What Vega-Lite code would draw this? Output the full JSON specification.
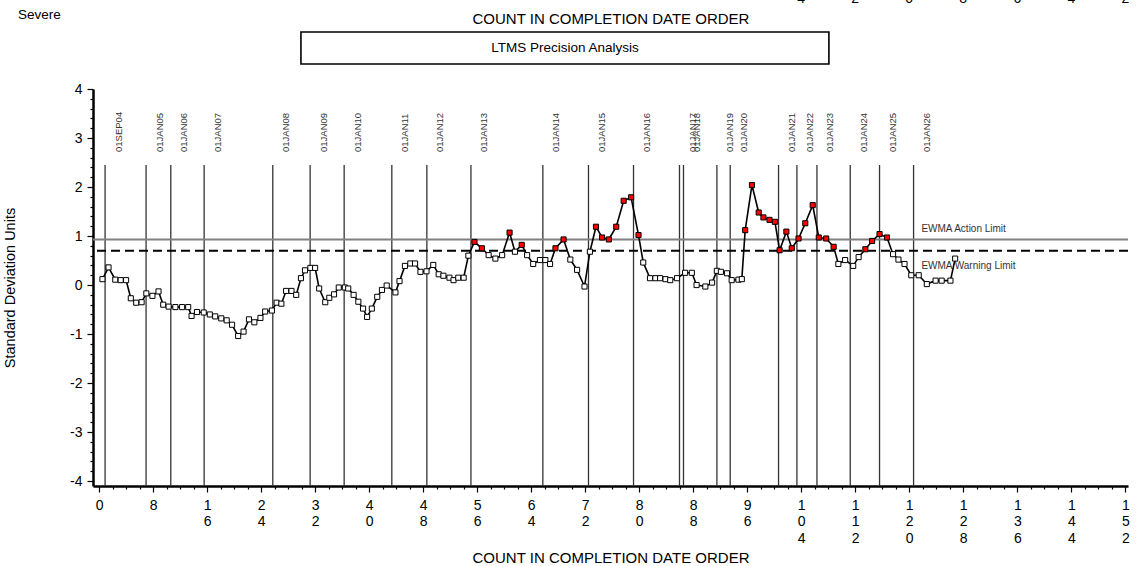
{
  "$schema": "https://vega.github.io/schema/vega-lite/v6.json",
  "width": 1035,
  "height": 397,
  "autosize": {"type": "none"},
  "padding": {"left": 93, "top": 89, "right": 17, "bottom": 80},
  "background": "white",
  "config": {"view": {"stroke": null}, "font": "Liberation Sans"},
  "datasets": {
    "series": [
      {"x":0.5,"y":0.12},{"x":1.4,"y":0.36},{"x":2.4,"y":0.11},{"x":3.2,"y":0.1},{"x":4.0,"y":0.1},{"x":4.7,"y":-0.27},{"x":5.5,"y":-0.36},{"x":6.3,"y":-0.35},{"x":7.0,"y":-0.17},{"x":7.9,"y":-0.22},
      {"x":8.8,"y":-0.13},{"x":9.5,"y":-0.4},{"x":10.3,"y":-0.44},{"x":11.3,"y":-0.45},{"x":12.3,"y":-0.45},{"x":13.2,"y":-0.45},{"x":13.7,"y":-0.63},{"x":14.5,"y":-0.55},{"x":15.5,"y":-0.56},{"x":16.4,"y":-0.6},
      {"x":17.2,"y":-0.64},{"x":18.1,"y":-0.68},{"x":18.9,"y":-0.72},{"x":19.7,"y":-0.81},{"x":20.6,"y":-1.04},{"x":21.4,"y":-0.95},{"x":22.2,"y":-0.7},{"x":23.0,"y":-0.76},{"x":23.9,"y":-0.67},{"x":24.6,"y":-0.54},
      {"x":25.6,"y":-0.52},{"x":26.3,"y":-0.36},{"x":27.0,"y":-0.38},{"x":27.7,"y":-0.12},{"x":28.5,"y":-0.12},{"x":29.2,"y":-0.2},{"x":29.9,"y":0.14},{"x":30.5,"y":0.3},{"x":31.3,"y":0.35},{"x":32.0,"y":0.35},
      {"x":32.6,"y":-0.07},{"x":33.5,"y":-0.35},{"x":34.1,"y":-0.26},{"x":34.8,"y":-0.19},{"x":35.5,"y":-0.05},{"x":36.4,"y":-0.05},{"x":36.9,"y":-0.07},{"x":37.7,"y":-0.2},{"x":38.4,"y":-0.34},{"x":39.1,"y":-0.48},
      {"x":39.7,"y":-0.65},{"x":40.4,"y":-0.48},{"x":41.2,"y":-0.24},{"x":41.9,"y":-0.1},{"x":42.6,"y":-0.01},{"x":43.9,"y":-0.15},{"x":44.5,"y":0.08},{"x":45.3,"y":0.39},{"x":46.1,"y":0.44},{"x":46.8,"y":0.44},
      {"x":47.6,"y":0.27},{"x":48.5,"y":0.28},{"x":49.5,"y":0.41},{"x":50.3,"y":0.22},{"x":51.0,"y":0.19},{"x":51.9,"y":0.15},{"x":52.5,"y":0.1},{"x":53.2,"y":0.15},{"x":54.0,"y":0.15},{"x":54.7,"y":0.6},
      {"x":55.6,"y":0.88},{"x":56.7,"y":0.75},{"x":57.7,"y":0.61},{"x":58.7,"y":0.54},{"x":59.7,"y":0.61},{"x":60.8,"y":1.07},{"x":61.6,"y":0.68},{"x":62.6,"y":0.82},{"x":63.4,"y":0.61},{"x":64.3,"y":0.43},
      {"x":65.3,"y":0.51},{"x":66.1,"y":0.51},{"x":66.8,"y":0.43},{"x":67.6,"y":0.75},{"x":68.8,"y":0.93},{"x":69.8,"y":0.52},{"x":70.8,"y":0.31},{"x":71.9,"y":-0.03},{"x":72.7,"y":0.68},{"x":73.6,"y":1.19},
      {"x":74.5,"y":0.97},{"x":75.5,"y":0.93},{"x":76.6,"y":1.19},{"x":77.7,"y":1.72},{"x":78.8,"y":1.79},{"x":79.9,"y":1.02},{"x":80.6,"y":0.46},{"x":81.6,"y":0.14},{"x":82.4,"y":0.14},{"x":83.1,"y":0.14},
      {"x":83.9,"y":0.12},{"x":84.6,"y":0.1},{"x":85.6,"y":0.14},{"x":86.8,"y":0.25},{"x":87.8,"y":0.25},{"x":88.5,"y":0.0},{"x":89.8,"y":-0.03},{"x":90.8,"y":0.05},{"x":91.5,"y":0.29},{"x":92.1,"y":0.27},
      {"x":93.0,"y":0.24},{"x":93.7,"y":0.1},{"x":94.7,"y":0.11},{"x":95.2,"y":0.12},{"x":95.7,"y":1.12},{"x":96.7,"y":2.04},{"x":97.7,"y":1.48},{"x":98.4,"y":1.38},{"x":99.3,"y":1.33},{"x":100.1,"y":1.29},
      {"x":100.8,"y":0.71},{"x":101.8,"y":1.09},{"x":102.6,"y":0.75},{"x":103.6,"y":0.95},{"x":104.6,"y":1.26},{"x":105.7,"y":1.63},{"x":106.6,"y":0.97},{"x":107.7,"y":0.95},{"x":108.8,"y":0.78},{"x":109.5,"y":0.43},
      {"x":110.5,"y":0.51},{"x":111.7,"y":0.39},{"x":112.5,"y":0.57},{"x":113.5,"y":0.73},{"x":114.5,"y":0.9},{"x":115.6,"y":1.04},{"x":116.7,"y":0.97},{"x":117.6,"y":0.63},{"x":118.4,"y":0.52},{"x":119.3,"y":0.43},
      {"x":120.3,"y":0.2},{"x":121.4,"y":0.2},{"x":122.6,"y":0.02},{"x":123.9,"y":0.09},{"x":124.8,"y":0.09},{"x":126.1,"y":0.09},{"x":126.8,"y":0.54}
    ],
    "dates": [
      {"x":0.89,"label":"01SEP04"},{"x":6.96,"label":"01JAN05"},{"x":10.62,"label":"01JAN06"},{"x":15.56,"label":"01JAN07"},{"x":25.73,"label":"01JAN08"},{"x":31.26,"label":"01JAN09"},{"x":36.3,"label":"01JAN10"},{"x":43.36,"label":"01JAN11"},{"x":48.55,"label":"01JAN12"},{"x":55.08,"label":"01JAN13"},{"x":65.73,"label":"01JAN14"},{"x":72.49,"label":"01JAN15"},{"x":79.16,"label":"01JAN16"},{"x":85.97,"label":"01JAN17"},{"x":86.56,"label":"01JAN18"},{"x":91.51,"label":"01JAN19"},{"x":93.48,"label":"01JAN20"},{"x":100.64,"label":"01JAN21"},{"x":103.36,"label":"01JAN22"},{"x":106.33,"label":"01JAN23"},{"x":111.26,"label":"01JAN24"},{"x":115.6,"label":"01JAN25"},{"x":120.64,"label":"01JAN26"}
    ],
    "limits": [
      {"name":"EWMA Action Limit","value":0.93},
      {"name":"EWMA Warning Limit","value":0.70}
    ],
    "topdigits": [
      {"x":104,"digit":"4"},{"x":112,"digit":"2"},{"x":120,"digit":"0"},{"x":128,"digit":"8"},{"x":136,"digit":"6"},{"x":144,"digit":"4"},{"x":152,"digit":"2"}
    ]
  },
  "layer": [
    {
      "data": {"name": "series"},
      "mark": {"type": "line", "stroke": "#000000", "strokeWidth": 1.6, "opacity": 0},
      "encoding": {
        "x": {
          "field": "x", "type": "quantitative",
          "scale": {"domain": [-0.9, 152.4], "nice": false, "zero": false},
          "axis": {
            "values": [0,2,4,6,8,10,12,14,16,18,20,22,24,26,28,30,32,34,36,38,40,42,44,46,48,50,52,54,56,58,60,62,64,66,68,70,72,74,76,78,80,82,84,86,88,90,92,94,96,98,100,102,104,106,108,110,112,114,116,118,120,122,124,126,128,130,132,134,136,138,140,142,144,146,148,150,152],
            "tickCount": 200,
            "title": "COUNT IN COMPLETION DATE ORDER",
            "titleFont": "Liberation Sans", "titleFontSize": 15, "titleFontWeight": "normal", "titleColor": "#000000", "titlePadding": 5,
            "labelExpr": "datum.value % 8 === 0 ? split('' + datum.value, '') : ''",
            "labelFont": "Liberation Sans", "labelFontSize": 14, "labelColor": "#000000", "labelLineHeight": 16.5, "labelPadding": 6,
            "labelOverlap": false, "labelFlush": false, "labelBaseline": "top", "labelAlign": "center",
            "tickSize": {"condition": {"test": "datum.value % 8 === 0", "value": 6}, "value": 3},
            "tickColor": "#000000", "tickWidth": 1.2,
            "domainColor": "#000000", "domainWidth": 2.5,
            "grid": false
          }
        },
        "y": {
          "field": "y", "type": "quantitative",
          "scale": {"domain": [-4.1, 4], "nice": false, "zero": false},
          "axis": {
            "values": [-4,-3.8,-3.6,-3.4,-3.2,-3,-2.8,-2.6,-2.4,-2.2,-2,-1.8,-1.6,-1.4,-1.2,-1,-0.8,-0.6,-0.4,-0.2,0,0.2,0.4,0.6,0.8,1,1.2,1.4,1.6,1.8,2,2.2,2.4,2.6,2.8,3,3.2,3.4,3.6,3.8,4],
            "tickCount": 200,
            "title": "Standard Deviation Units",
            "titleFont": "Liberation Sans", "titleFontSize": 14.5, "titleFontWeight": "normal", "titleColor": "#000000", "titlePadding": 52,
            "labelExpr": "abs(datum.value - round(datum.value)) < 0.001 ? '' + round(datum.value) : ''",
            "labelFont": "Liberation Sans", "labelFontSize": 14, "labelColor": "#000000", "labelPadding": 5,
            "labelOverlap": false, "labelFlush": false,
            "tickSize": {"condition": {"test": "abs(datum.value - round(datum.value)) < 0.001", "value": 6}, "value": 3},
            "tickColor": "#000000", "tickWidth": 1.2,
            "domainColor": "#000000", "domainWidth": 2.5,
            "grid": false
          }
        }
      }
    },
    {
      "data": {"name": "dates"},
      "mark": {"type": "rule", "stroke": "#333333", "strokeWidth": 1.3},
      "encoding": {
        "x": {"field": "x", "type": "quantitative"},
        "y": {"datum": -4.1, "type": "quantitative"},
        "y2": {"datum": 2.449}
      }
    },
    {
      "data": {"name": "dates"},
      "mark": {"type": "text", "angle": 270, "align": "left", "baseline": "middle", "dy": 13.5, "fontSize": 9.5, "font": "Liberation Sans", "color": "#333333"},
      "encoding": {
        "x": {"field": "x", "type": "quantitative"},
        "y": {"datum": 2.715, "type": "quantitative"},
        "text": {"field": "label"}
      }
    },
    {
      "data": {"name": "limits"},
      "transform": [{"filter": "datum.name === 'EWMA Action Limit'"}],
      "mark": {"type": "rule", "stroke": "#808080", "strokeWidth": 2},
      "encoding": {
        "y": {"field": "value", "type": "quantitative"}
      }
    },
    {
      "data": {"name": "limits"},
      "transform": [{"filter": "datum.name === 'EWMA Warning Limit'"}],
      "mark": {"type": "rule", "stroke": "#000000", "strokeWidth": 2, "strokeDash": [9, 5]},
      "encoding": {
        "y": {"field": "value", "type": "quantitative"}
      }
    },
    {
      "data": {"name": "limits"},
      "transform": [{"filter": "datum.name === 'EWMA Action Limit'"}],
      "mark": {"type": "text", "align": "left", "baseline": "middle", "dy": -10, "fontSize": 10, "font": "Liberation Sans", "color": "#333333"},
      "encoding": {
        "x": {"datum": 121.8, "type": "quantitative"},
        "y": {"field": "value", "type": "quantitative"},
        "text": {"field": "name"}
      }
    },
    {
      "data": {"name": "limits"},
      "transform": [{"filter": "datum.name === 'EWMA Warning Limit'"}],
      "mark": {"type": "text", "align": "left", "baseline": "middle", "dy": 15, "fontSize": 10, "font": "Liberation Sans", "color": "#333333"},
      "encoding": {
        "x": {"datum": 121.8, "type": "quantitative"},
        "y": {"field": "value", "type": "quantitative"},
        "text": {"field": "name"}
      }
    },
    {
      "data": {"name": "series"},
      "mark": {"type": "line", "stroke": "#000000", "strokeWidth": 1.6},
      "encoding": {
        "x": {"field": "x", "type": "quantitative"},
        "y": {"field": "y", "type": "quantitative"}
      }
    },
    {
      "data": {"name": "series"},
      "mark": {"type": "point", "shape": "square", "filled": true, "size": 26, "stroke": "#000000", "strokeWidth": 1, "opacity": 1},
      "encoding": {
        "x": {"field": "x", "type": "quantitative"},
        "y": {"field": "y", "type": "quantitative"},
        "fill": {"condition": {"test": "datum.y >= 0.7", "value": "#ff0000"}, "value": "#ffffff"}
      }
    },
    {
      "data": {"values": [{}]},
      "mark": {"type": "text", "text": "COUNT IN COMPLETION DATE ORDER", "align": "center", "baseline": "middle", "fontSize": 15, "font": "Liberation Sans", "color": "#000000"},
      "encoding": {
        "x": {"datum": 75.82, "type": "quantitative"},
        "y": {"datum": 5.428, "type": "quantitative"}
      }
    },
    {
      "data": {"values": [{}]},
      "mark": {"type": "rect", "fill": null, "fillOpacity": 0, "stroke": "#000000", "strokeWidth": 1.6},
      "encoding": {
        "x": {"datum": 29.9, "type": "quantitative"},
        "x2": {"datum": 108.1},
        "y": {"datum": 5.163, "type": "quantitative"},
        "y2": {"datum": 4.51}
      }
    },
    {
      "data": {"values": [{}]},
      "mark": {"type": "text", "text": "LTMS Precision Analysis", "align": "center", "baseline": "middle", "fontSize": 13.5, "font": "Liberation Sans", "color": "#000000"},
      "encoding": {
        "x": {"datum": 69.0, "type": "quantitative"},
        "y": {"datum": 4.837, "type": "quantitative"}
      }
    },
    {
      "data": {"values": [{}]},
      "mark": {"type": "text", "text": "Severe", "align": "left", "baseline": "middle", "fontSize": 13.5, "font": "Liberation Sans", "color": "#000000"},
      "encoding": {
        "x": {"datum": -12.0, "type": "quantitative"},
        "y": {"datum": 5.51, "type": "quantitative"}
      }
    },
    {
      "data": {"name": "topdigits"},
      "mark": {"type": "text", "align": "center", "baseline": "middle", "fontSize": 14, "font": "Liberation Sans", "color": "#000000"},
      "encoding": {
        "x": {"field": "x", "type": "quantitative"},
        "y": {"datum": 5.836, "type": "quantitative"},
        "text": {"field": "digit"}
      }
    }
  ]
}
